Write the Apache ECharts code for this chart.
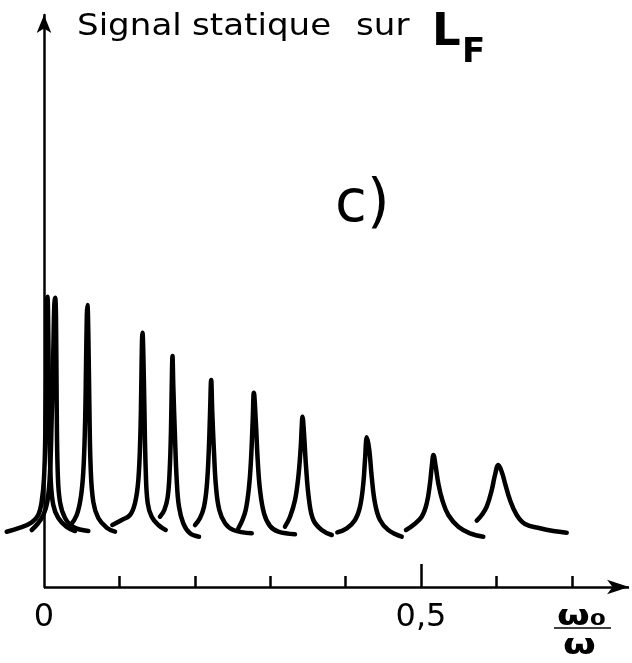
<!DOCTYPE html>
<html>
<head>
<meta charset="utf-8">
<script src="https://cdn.jsdelivr.net/npm/echarts@6/dist/echarts.min.js"></script>
<style>
html,body{margin:0;padding:0;background:#fff;}
#chart{width:632px;height:663px;}
</style>
</head>
<body>
<div id="chart"></div>
<script>
// x: omega0/omega, y: static signal (arbitrary units)
const peakA = [[-0.0495,55.3],[-0.0318,59.3],[-0.0163,64.7],[-0.0076,72],[-0.0031,85.3],[0,109],[0.0017,152],[0.0031,219],[0.0040,286],[0.0046,290.3],[0.0057,252],[0.0070,169],[0.0088,109],[0.0123,82],[0.0190,69],[0.0301,60],[0.0411,56]];
const peakB = [[-0.0163,57],[-0.0076,64],[-0.0009,72],[0.0044,85],[0.0080,115],[0.0102,169],[0.0123,235],[0.0137,283],[0.0148,289.3],[0.0159,269],[0.0168,185],[0.0182,115],[0.0212,85],[0.0279,69],[0.0389,60],[0.0588,56]];
const peakC = [[0.0354,62],[0.0434,72],[0.0487,89],[0.0521,115],[0.0544,162],[0.0557,219],[0.0568,272],[0.0576,282],[0.0588,252],[0.0601,185],[0.0619,119],[0.0654,85],[0.0720,69],[0.0832,59.3],[0.0942,55.3]];
const peakD = [[0.0906,62],[0.1031,67],[0.1141,72],[0.1207,84],[0.1251,107],[0.1277,150.3],[0.1290,200.3],[0.1299,244],[0.1306,254.3],[0.1317,234],[0.1330,184],[0.1349,117],[0.1375,84],[0.1428,70.3],[0.1516,62],[0.1614,57]];
const peakE = [[0.1538,70.3],[0.1596,77],[0.1641,90.3],[0.1667,117],[0.1684,157],[0.1694,200.3],[0.1704,231],[0.1715,200.3],[0.1737,150.3],[0.1760,107],[0.1790,80.3],[0.1847,63.7],[0.1936,53.7],[0.2056,50.3]];
const peakF = [[0.2003,62],[0.2069,69],[0.2122,80.3],[0.2158,100.3],[0.2184,134],[0.2202,174],[0.2217,207],[0.2232,174],[0.2255,134],[0.2281,100.3],[0.2325,77],[0.2401,63.7],[0.2511,57],[0.2755,53.7]];
const peakG = [[0.2577,58.7],[0.2622,65.3],[0.2675,77],[0.2719,100.3],[0.2745,127],[0.2768,167],[0.2783,194.3],[0.2808,167],[0.2834,127],[0.2865,97],[0.2918,73.7],[0.2997,61],[0.3107,55.3],[0.3329,52.7]];
const peakH = [[0.3196,60.3],[0.3263,70.3],[0.3329,87],[0.3373,110.3],[0.3405,140.3],[0.3418,160.3],[0.3428,170.3],[0.3448,153.7],[0.3475,120.3],[0.3515,87],[0.3572,67],[0.3683,57],[0.3816,52]];
const peakI = [[0.3890,54.7],[0.4015,58.7],[0.4125,67],[0.4191,80.3],[0.4235,103.7],[0.4257,127],[0.4282,149.7],[0.4314,137],[0.4346,110.3],[0.4390,83.7],[0.4456,67],[0.4566,57],[0.4744,50.3]];
const peakJ = [[0.4801,57],[0.4898,62],[0.5009,70.3],[0.5076,83.7],[0.5119,103.7],[0.5142,120.3],[0.5165,132],[0.5195,120.3],[0.5229,103.7],[0.5282,87],[0.5362,72],[0.5495,60.3],[0.5650,53.7],[0.5826,50.3]];
const peakK = [[0.5739,66.3],[0.5805,72],[0.5871,80.3],[0.5938,97],[0.5981,112],[0.6025,122],[0.6070,115.3],[0.6114,103.7],[0.6180,87],[0.6269,72],[0.6379,63],[0.6578,58.7],[0.6755,56],[0.6932,54.3]];

const minorTicks = [0.1, 0.2, 0.3, 0.4, 0.5, 0.6, 0.7];
const majorTicks = [0.5];
const tickLabelValues = [0, 0.5];
const tickLabelTexts = ['0', '0,5'];
const xAxisEnd = 0.7759;

const peaks = [peakA, peakB, peakC, peakD, peakE, peakF, peakG, peakH, peakI, peakJ, peakK];

const INK = '#000';
const FONT = '"DejaVu Sans", sans-serif';
const X_MIN = -0.0504;
const X_MAX = 0.7798;

const chart = echarts.init(document.getElementById('chart'), null, {renderer: 'canvas'});

const series = peaks.map(p => ({
  type: 'line',
  data: p,
  xAxisIndex: 0,
  yAxisIndex: 0,
  smooth: 0.4,
  showSymbol: false,
  symbol: 'none',
  clip: false,
  silent: true,
  lineStyle: {color: INK, width: 4.5, cap: 'round', join: 'round'}
}));

// x axis line (starting at the y axis) with arrow, drawn through the axes' scales
series.push({
  type: 'line',
  data: [],
  xAxisIndex: 0,
  yAxisIndex: 0,
  silent: true,
  markLine: {
    silent: true,
    animation: false,
    symbol: ['none', 'arrow'],
    symbolSize: [11, 22],
    label: {show: false},
    lineStyle: {color: INK, width: 2.5, type: 'solid'},
    data: [[{coord: [0, 0]}, {coord: [xAxisEnd, 0]}]]
  }
});

chart.setOption({
  animation: false,
  backgroundColor: '#fff',
  grid: {left: 6, right: 0, top: 15, bottom: 76, containLabel: false},
  xAxis: [
    {
      type: 'value', min: X_MIN, max: X_MAX, position: 'bottom',
      axisLine: {show: false},
      axisTick: {show: true, inside: true, length: 11, lineStyle: {color: INK, width: 2.5}, customValues: minorTicks},
      axisLabel: {show: false},
      splitLine: {show: false}
    },
    {
      type: 'value', min: X_MIN, max: X_MAX, position: 'bottom',
      axisLine: {show: false},
      axisTick: {show: true, inside: true, length: 23, lineStyle: {color: INK, width: 2.5}, customValues: majorTicks},
      axisLabel: {
        show: true, customValues: tickLabelValues, margin: 15,
        fontFamily: FONT, fontSize: 32, color: INK,
        formatter: v => tickLabelTexts[tickLabelValues.indexOf(v)]
      },
      splitLine: {show: false}
    }
  ],
  yAxis: {
    type: 'value', min: 0, max: 572,
    axisLine: {show: true, onZero: true, onZeroAxisIndex: 0, lineStyle: {color: INK, width: 2.5}, symbol: ['none', 'arrow'], symbolSize: [11, 18]},
    axisTick: {show: false},
    axisLabel: {show: false},
    splitLine: {show: false}
  },
  graphic: [
    {type: 'text', x: 77, y: 11, scaleX: 1.1, style: {text: 'Signal', font: '31px ' + FONT, fill: INK}},
    {type: 'text', x: 192, y: 11, scaleX: 1.1, style: {text: 'statique', font: '31px ' + FONT, fill: INK}},
    {type: 'text', x: 356, y: 11, scaleX: 1.1, style: {text: 'sur', font: '31px ' + FONT, fill: INK}},
    {type: 'text', left: 432, top: 11, style: {text: 'L', font: 'bold 45px ' + FONT, fill: INK}},
    {type: 'text', left: 462, top: 36, style: {text: 'F', font: 'bold 34px ' + FONT, fill: INK}},
    {type: 'text', left: 335, top: 177, style: {text: 'c)', font: '58px ' + FONT, fill: INK}},
    {type: 'text', x: 557, y: 604, scaleX: 1.35, style: {text: 'ω₀', font: 'bold 28px ' + FONT, fill: INK}},
    {type: 'line', shape: {x1: 554, y1: 628, x2: 611, y2: 628}, style: {stroke: INK, lineWidth: 1.5}},
    {type: 'text', x: 563, y: 633, scaleX: 1.35, style: {text: 'ω', font: 'bold 28px ' + FONT, fill: INK}}
  ],
  series: series
});
</script>
</body>
</html>
